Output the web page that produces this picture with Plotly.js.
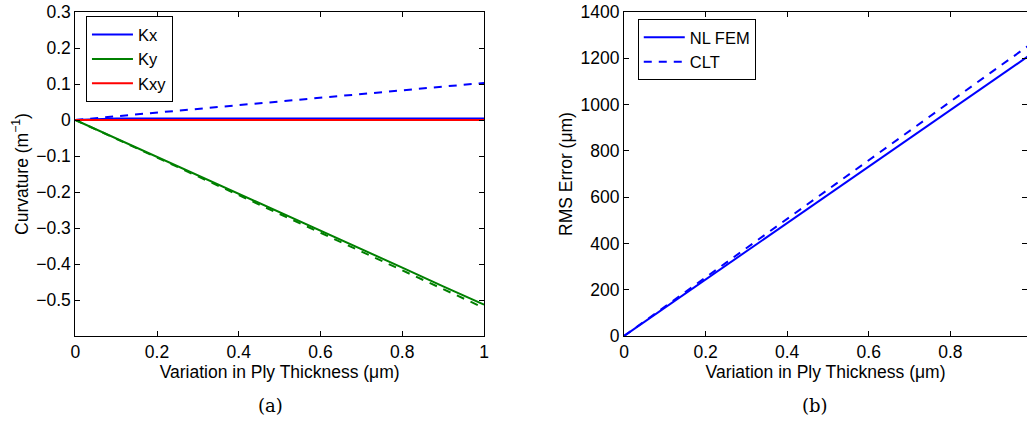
<!DOCTYPE html>
<html><head><meta charset="utf-8">
<script src="https://cdn.plot.ly/plotly-3.0.1.min.js"></script>
<style>body{margin:0;background:#fff}#c{width:1027px;height:421px}</style>
</head><body><div id="c"></div>
<script>
// Panel (a): curvature vs ply-thickness variation
const xA = [0, 0.1, 0.2, 0.3, 0.4, 0.5, 0.6, 0.7, 0.8, 0.9, 1.0];
const kxFem = [0, 0.004, 0.004, 0.004, 0.004, 0.004, 0.004, 0.004, 0.004, 0.004, 0.004];
const kxClt = [0, 0.0103, 0.0206, 0.0309, 0.0412, 0.0515, 0.0618, 0.0721, 0.0824, 0.0927, 0.103];
const kyFem = [0, -0.051, -0.102, -0.154, -0.205, -0.256, -0.308, -0.359, -0.410, -0.462, -0.513];
const kyClt = [0, -0.052, -0.104, -0.157, -0.209, -0.261, -0.313, -0.365, -0.418, -0.470, -0.522];
const kxyFem = [0, 0, 0, 0, 0, 0, 0, 0, 0, 0, 0];
const kxyClt = [0, 0, 0, 0, 0, 0, 0, 0, 0, 0, 0];
// Panel (b): RMS error
const xB = [0, 0.1, 0.2, 0.3, 0.4, 0.5, 0.6, 0.7, 0.8, 0.9, 1.0];
const rmsFem = [0, 122, 244, 366, 488, 610, 732, 854, 976, 1098, 1220];
const rmsClt = [0, 127, 254, 381, 508, 634, 761, 887, 1013, 1139, 1265];
const ticksA = [-0.5, -0.4, -0.3, -0.2, -0.1, 0, 0.1, 0.2, 0.3];
const ticksB = [0, 200, 400, 600, 800, 1000, 1200, 1400];

const BLUE = '#0000ff', GREEN = '#008000', RED = '#ff0000';
const FONT = 'Liberation Sans, Arial, sans-serif';
const FS = 17.5, LFS = 16.5;
const DASH = '8px,7px';
function tr(x, y, color, dash, name, xa, ya, show, leg) {
  return {x: x, y: y, mode: 'lines', name: name, xaxis: xa, yaxis: ya,
    line: {color: color, width: 2, dash: dash}, showlegend: show, legend: leg};
}
const data = [
  tr(xA, kxClt, BLUE, DASH, 'Kx CLT', 'x', 'y', false, 'legend'),
  tr(xA, kyClt, GREEN, DASH, 'Ky CLT', 'x', 'y', false, 'legend'),
  tr(xA, kxyClt, RED, DASH, 'Kxy CLT', 'x', 'y', false, 'legend'),
  tr(xA, kxFem, BLUE, 'solid', 'Kx', 'x', 'y', true, 'legend'),
  tr(xA, kyFem, GREEN, 'solid', 'Ky', 'x', 'y', true, 'legend'),
  tr(xA, kxyFem, RED, 'solid', 'Kxy', 'x', 'y', true, 'legend'),
  tr(xB, rmsFem, BLUE, 'solid', 'NL FEM', 'x2', 'y2', true, 'legend2'),
  tr(xB, rmsClt, BLUE, DASH, 'CLT', 'x2', 'y2', true, 'legend2')
];
const ax = {showline: true, linecolor: '#000', linewidth: 1, mirror: 'ticks', ticks: 'inside',
  ticklen: 5, tickcolor: '#000', showgrid: false, zeroline: false,
  tickfont: {family: FONT, size: FS, color: '#000'}};
const layout = {
  width: 1027, height: 421, paper_bgcolor: '#fff', plot_bgcolor: '#fff',
  margin: {l: 0, r: 0, t: 12, b: 85},
  font: {family: FONT, size: FS, color: '#000'},
  xaxis: Object.assign({}, ax, {domain: [0.0733, 0.4713], range: [0, 1], tickvals: [0, 0.2, 0.4, 0.6, 0.8, 1],
    ticktext: ['0', '0.2', '0.4', '0.6', '0.8', '1'],
    title: {text: 'Variation in Ply Thickness (μm)', font: {family: FONT, size: FS}, standoff: 0}}),
  yaxis: Object.assign({}, ax, {anchor: 'x', range: [-0.6, 0.3], tickvals: ticksA,
    title: {text: 'Curvature (m<sup>−1</sup>)', font: {family: FONT, size: FS}, standoff: 3}}),
  xaxis2: Object.assign({}, ax, {domain: [0.6076, 1.0], anchor: 'y2', range: [0, 0.988], tickvals: [0, 0.2, 0.4, 0.6, 0.8],
    ticktext: ['0', '0.2', '0.4', '0.6', '0.8'],
    title: {text: 'Variation in Ply Thickness (μm)', font: {family: FONT, size: FS}, standoff: 0}}),
  yaxis2: Object.assign({}, ax, {anchor: 'x2', range: [0, 1400], tickvals: ticksB,
    title: {text: 'RMS Error (μm)', font: {family: FONT, size: FS}, standoff: 3}}),
  legend: {x: 0.0837, y: 0.987, xanchor: 'left', yanchor: 'top', bgcolor: '#fff', itemwidth: 41,
    bordercolor: '#000', borderwidth: 1, font: {family: FONT, size: LFS}, tracegroupgap: 0},
  legend2: {x: 0.621, y: 0.978, xanchor: 'left', yanchor: 'top', bgcolor: '#fff', itemwidth: 41,
    bordercolor: '#000', borderwidth: 1, font: {family: FONT, size: LFS}, tracegroupgap: 0},
  annotations: [
    {text: '(a)', xref: 'paper', yref: 'paper', x: 0.2636, y: -0.215, xanchor: 'center', yanchor: 'middle',
      showarrow: false, font: {family: 'DejaVu Serif, Liberation Serif, serif', size: 18}},
    {text: '(b)', xref: 'paper', yref: 'paper', x: 0.7936, y: -0.215, xanchor: 'center', yanchor: 'middle',
      showarrow: false, font: {family: 'DejaVu Serif, Liberation Serif, serif', size: 18}}
  ]
};
Plotly.newPlot('c', data, layout, {staticPlot: true, displayModeBar: false});
</script></body></html>
